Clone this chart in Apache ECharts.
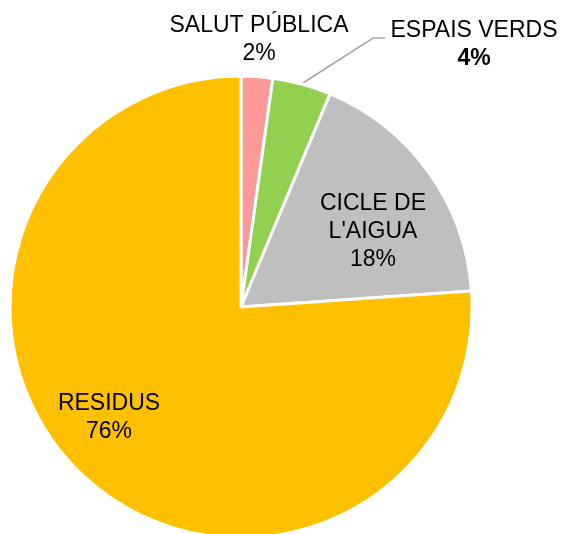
<!DOCTYPE html>
<html>
<head>
<meta charset="utf-8">
<script src="https://cdn.jsdelivr.net/npm/echarts@6/dist/echarts.min.js"></script>
<style>html,body{margin:0;padding:0;background:#fff;}#c{width:566px;height:534px;}</style>
</head>
<body>
<div id="c"></div>
<script>
const categories = ['SALUT PÚBLICA', 'ESPAIS VERDS', "CICLE DE\nL'AIGUA", 'RESIDUS'];
const values = [2.2, 4.1, 17.6, 76.1];
const colors = ['#FF9999', '#92D050', '#BFBFBF', '#FFC000'];
const labelPos = [[259, 40], [474, 45], [373, 232], [109, 418]];

const font = 'Liberation Sans, Arial, sans-serif';
const chart = echarts.init(document.getElementById('c'));
chart.setOption({
  animation: false,
  series: [{
    type: 'pie',
    center: [241, 307],
    radius: 231,
    startAngle: 90,
    clockwise: true,
    percentPrecision: 0,
    avoidLabelOverlap: false,
    itemStyle: { borderColor: '#fff', borderWidth: 3 },
    label: {
      show: true,
      position: 'outside',
      formatter: '{b}\n{d}%',
      fontFamily: font,
      fontSize: 23,
      lineHeight: 28,
      color: '#000',
      align: 'center'
    },
    labelLine: { show: false },
    labelLayout: function (p) {
      const pos = labelPos[p.dataIndex];
      const o = { x: pos[0], y: pos[1], align: 'center', verticalAlign: 'middle' };
      if (p.dataIndex === 1) {
        o.labelLinePoints = [[303, 83], [373, 38], [385, 38]];
      }
      return o;
    },
    data: categories.map((c, i) => ({
      name: c,
      value: values[i],
      itemStyle: { color: colors[i] },
      label: i === 1 ? {
        formatter: '{b}\n{p|{d}%}',
        rich: { p: { fontFamily: font, fontSize: 23, lineHeight: 28, fontWeight: 'bold', color: '#000' } }
      } : {},
      labelLine: i === 1 ? { show: true, lineStyle: { color: '#A6A6A6', width: 1.5 } } : { show: false }
    }))
  }]
});
</script>
</body>
</html>
